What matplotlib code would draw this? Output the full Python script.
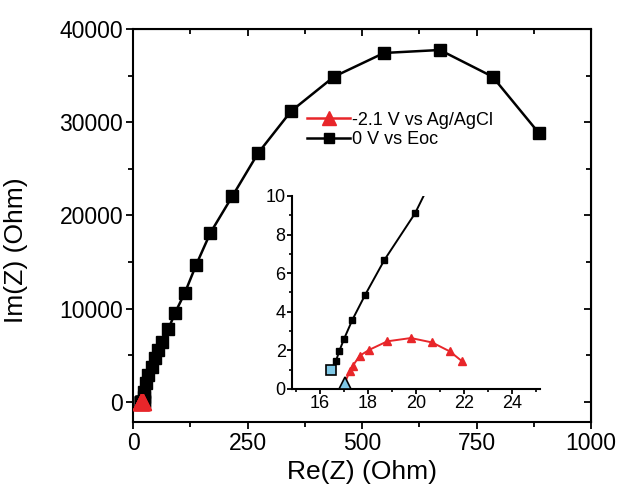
import numpy as np
import matplotlib
matplotlib.use('Agg')
import matplotlib.pyplot as plt
from matplotlib.ticker import MultipleLocator

plt.rcParams['font.family'] = ['Liberation Sans', 'DejaVu Sans']

# 0 V vs Eoc (black squares), Re / Im in Ohm
re_eoc = [16.49, 16.67, 16.81, 17.01, 17.36, 17.89, 18.69, 19.96, 21.5, 23.0,
          24.0, 24.5, 25.0, 28.0, 33.5, 40.8, 48.0, 55.3, 64.0, 77.0,
          91.7, 113, 138, 169, 217, 273, 345, 439, 548, 670, 785, 886]
im_eoc = [1.0, 1.43, 1.95, 2.59, 3.59, 4.88, 6.69, 9.10, 13, 40,
          150, 500, 1100, 2000, 2890, 3780, 4680, 5570, 6450, 7780,
          9540, 11680, 14710, 18140, 22070, 26680, 31180, 34890, 37430, 37750, 34890, 28850]

# -2.1 V vs Ag/AgCl (red triangles)
re_agcl = [17.05, 17.24, 17.38, 17.66, 18.06, 18.81, 19.79, 20.67, 21.40, 21.92]
im_agcl = [0.32, 0.91, 1.21, 1.72, 2.03, 2.47, 2.64, 2.41, 1.95, 1.43]

red = '#e8262a'
cyan = '#7fc8e6'

fig = plt.figure(figsize=(6.25, 5.01), dpi=100)
ax = fig.add_axes([0.2128, 0.1577, 0.7328, 0.7844])

ax.plot(re_eoc, im_eoc, '-', color='black', lw=1.8, marker='s', ms=8.5,
        mfc='black', mec='black', label='0 V vs Eoc', zorder=2)
ax.plot(re_agcl, im_agcl, '-', color=red, lw=1.8, marker='^', ms=12,
        mfc=red, mec=red, label='-2.1 V vs Ag/AgCl', zorder=3)

ax.set_xlim(0, 1000)
ax.set_ylim(-2150, 40000)
ax.xaxis.set_major_locator(MultipleLocator(250))
ax.xaxis.set_minor_locator(MultipleLocator(125))
ax.yaxis.set_major_locator(MultipleLocator(10000))
ax.yaxis.set_minor_locator(MultipleLocator(5000))
ax.tick_params(which='major', direction='out', length=5, width=1.3, labelsize=16.5, pad=2)
ax.tick_params(which='minor', direction='out', length=3.5, width=1.3)
for s in ax.spines.values():
    s.set_linewidth(1.5)

# mirrored inward ticks on top and right
top = ax.secondary_xaxis('top')
top.xaxis.set_major_locator(MultipleLocator(250))
top.xaxis.set_minor_locator(MultipleLocator(125))
top.tick_params(which='both', direction='in', labeltop=False, width=1.3)
top.tick_params(which='major', length=5)
top.tick_params(which='minor', length=3.5)
right = ax.secondary_yaxis('right')
right.yaxis.set_major_locator(MultipleLocator(10000))
right.yaxis.set_minor_locator(MultipleLocator(5000))
right.tick_params(which='both', direction='in', labelright=False, width=1.3)
right.tick_params(which='major', length=5)
right.tick_params(which='minor', length=3.5)

ax.set_xlabel('Re(Z) (Ohm)', fontsize=19, labelpad=4)
ax.set_ylabel('Im(Z) (Ohm)', fontsize=19)
ax.yaxis.set_label_coords(-0.229, 0.438)

handles, labels = ax.get_legend_handles_labels()
leg = ax.legend(handles[::-1], labels[::-1], loc='upper left',
                bbox_to_anchor=(0.38, 0.79), frameon=False, fontsize=13,
                handlelength=2.4, handletextpad=0.1, labelspacing=0.15,
                borderpad=0, borderaxespad=0, markerscale=0.85)

# inset
axi = fig.add_axes([0.4672, 0.2236, 0.3968, 0.3852])
axi.plot(re_eoc, im_eoc, '-', color='black', lw=1.4, marker='s', ms=4.5, zorder=2)
axi.plot(re_agcl, im_agcl, '-', color=red, lw=1.4, marker='^', ms=5.5, zorder=3)
axi.plot(re_eoc[0], im_eoc[0], 's', ms=7.5, mfc=cyan, mec='black', mew=1.2, zorder=4)
axi.plot(re_agcl[0], im_agcl[0], '^', ms=9, mfc=cyan, mec='black', mew=1.2, zorder=4)
axi.set_xlim(14.85, 25.15)
axi.set_ylim(0, 10)
axi.xaxis.set_major_locator(MultipleLocator(2))
axi.xaxis.set_minor_locator(MultipleLocator(1))
axi.yaxis.set_major_locator(MultipleLocator(2))
axi.yaxis.set_minor_locator(MultipleLocator(1))
axi.spines['top'].set_visible(False)
axi.spines['right'].set_visible(False)
for s in ('left', 'bottom'):
    axi.spines[s].set_linewidth(1.5)
axi.tick_params(which='major', direction='out', length=3.5, width=1.3, labelsize=13, pad=1)
axi.tick_params(which='minor', direction='out', length=2.5, width=1.2)
axi.patch.set_alpha(0)

fig.savefig('out.png', dpi=100)
